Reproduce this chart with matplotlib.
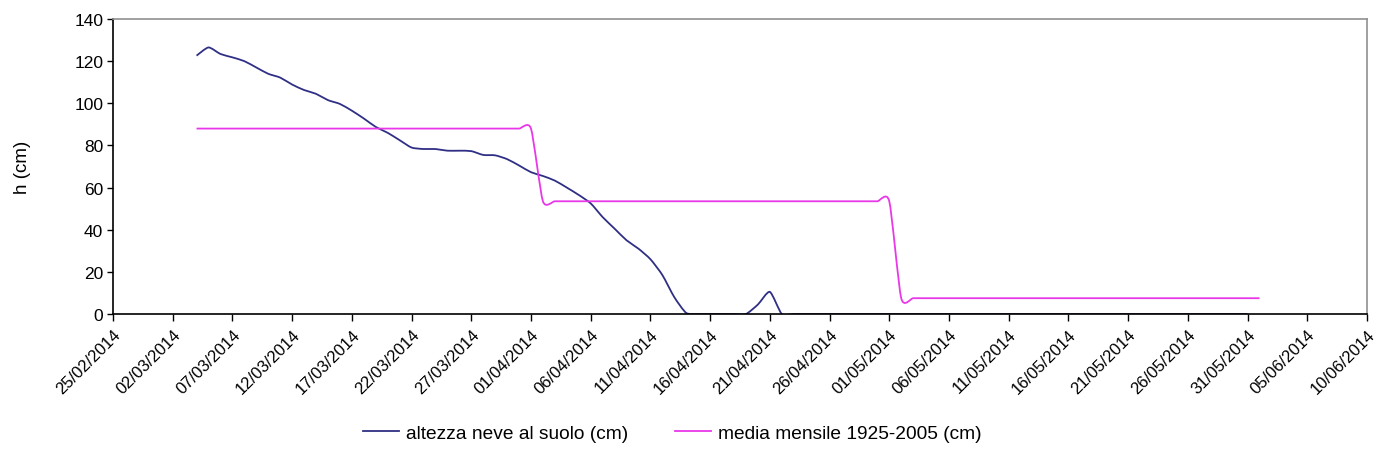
import numpy as np
import pandas as pd
import matplotlib
matplotlib.use("Agg")
import matplotlib.pyplot as plt
import matplotlib.dates as mdates
from matplotlib.path import Path
from matplotlib.patches import PathPatch
from matplotlib.lines import Line2D

plt.rcParams['font.family'] = ['Liberation Sans', 'DejaVu Sans']

# altezza neve al suolo, valori giornalieri dal 04/03/2014 al 31/05/2014
neve_inizio = "2014-03-04"
neve_cm = [122.6, 126.5, 123.4, 121.8, 120.0, 117.0, 114.0, 112.2, 108.9, 106.3,
           104.5, 101.5, 99.7, 96.5, 92.8, 88.8, 86.0, 82.5, 79.0, 78.3,
           78.3, 77.5, 77.5, 77.3, 75.5, 75.3, 73.5, 70.5, 67.3, 65.5,
           63.3, 60.0, 56.5, 52.5, 46.0, 40.5, 35.0, 31.0, 26.0, 18.5,
           8.0, 0.5, 0, 0, 0, 0, 0, 4.5, 10.5, 0] + [0] * 39

# media mensile 1925-2005 (marzo, aprile, maggio) e giorni per ogni tratto
media_mesi = [88.0, 53.5, 7.5]
media_giorni = [29, 30, 31]
media_inizio = "2014-03-04"

tick_start = "2014-02-25"
tick_end = "2014-06-10"

blu = '#2f2f85'
rosa = '#e838e8'


def curva_liscia(x, y, k=9.0):
    # bezier come la linea "smussata" di Excel
    x = np.asarray(x, float)
    y = np.asarray(y, float)
    n = len(x)
    verts = [(x[0], y[0])]
    codes = [Path.MOVETO]
    for i in range(n - 1):
        i0 = max(i - 1, 0)
        i3 = min(i + 2, n - 1)
        c1 = (x[i] + (x[i + 1] - x[i0]) / k, y[i] + (y[i + 1] - y[i0]) / k)
        c2 = (x[i + 1] - (x[i3] - x[i]) / k, y[i + 1] - (y[i3] - y[i]) / k)
        verts += [c1, c2, (x[i + 1], y[i + 1])]
        codes += [Path.CURVE4] * 3
    return Path(verts, codes)


neve_date = pd.date_range(neve_inizio, periods=len(neve_cm), freq="D")
media_cm = np.repeat(media_mesi, media_giorni)
media_date = pd.date_range(media_inizio, periods=len(media_cm), freq="D")

fig = plt.figure(figsize=(13.86, 4.64), dpi=100)
ax = fig.add_axes([0.0815, 0.3211, 0.9048, 0.6358])

for d, v, c in [(neve_date, neve_cm, blu), (media_date, media_cm, rosa)]:
    xs = mdates.date2num(d.to_pydatetime())
    p = PathPatch(curva_liscia(xs, v), facecolor='none', edgecolor=c,
                  lw=1.3, transform=ax.transData)
    ax.add_patch(p)

ticks = pd.date_range(tick_start, tick_end, freq="5D")
ax.set_xlim(mdates.date2num(pd.Timestamp(tick_start)),
            mdates.date2num(pd.Timestamp(tick_end)))
ax.set_ylim(0, 140)
ax.set_yticks(range(0, 141, 20))
ax.set_xticks(mdates.date2num(ticks.to_pydatetime()))
ax.set_xticklabels([t.strftime("%d/%m/%Y") for t in ticks], rotation=45,
                   ha='right', va='top', rotation_mode='anchor', fontsize=12)
ax.tick_params(axis='y', labelsize=12.5, length=4, width=1, direction='out', pad=3)
ax.tick_params(axis='x', length=5, width=1, direction='out', pad=4)

for s in ['top', 'right']:
    ax.spines[s].set_color('#909090')
    ax.spines[s].set_linewidth(1.2)
for s in ['left', 'bottom']:
    ax.spines[s].set_color('black')
    ax.spines[s].set_linewidth(1.2)

fig.text(0.016, 0.6385, "h (cm)", rotation=90, ha='center', va='center', fontsize=13.5)

handles = [Line2D([], [], color=blu, lw=1.3), Line2D([], [], color=rosa, lw=1.3)]
fig.legend(handles, ["altezza neve al suolo (cm)", "media mensile 1925-2005 (cm)"],
           loc='center', bbox_to_anchor=(0.485, 0.065), ncol=2, frameon=False,
           fontsize=13.8, handlelength=1.9, handletextpad=0.35, columnspacing=2.45)

fig.savefig("out.png", dpi=100)
